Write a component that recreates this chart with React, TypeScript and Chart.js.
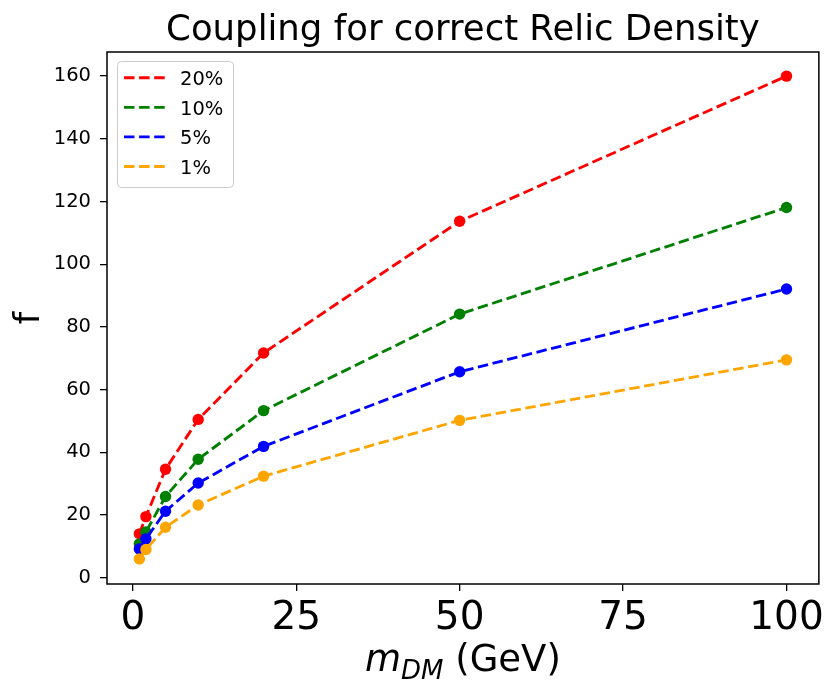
import React, { useEffect, useRef } from "react";
import { Chart, registerables } from "chart.js";

Chart.register(...registerables);

const masses = [1, 2, 5, 10, 20, 50, 100];
const f20 = [14.0, 19.5, 34.6, 50.5, 71.7, 113.7, 160.0];
const f10 = [10.8, 14.6, 25.9, 37.8, 53.3, 84.1, 118.1];
const f5 = [9.2, 12.4, 21.2, 30.2, 41.9, 65.7, 92.1];
const f1 = [6.0, 9.0, 16.1, 23.2, 32.4, 50.2, 69.5];
const seriesLabels = ["20%", "10%", "5%", "1%"];
const seriesColors = ["#ff0000", "#008000", "#0000ff", "#ffa500"];
const xTicks = [0, 25, 50, 75, 100];
const yTicks = [0, 20, 40, 60, 80, 100, 120, 140, 160];
const titleText = "Coupling for correct Relic Density";
const yTitle = "f";
const xTitleMain = "m";
const xTitleSub = "DM";
const xTitleUnit = " (GeV)";

const FONT = '"DejaVu Sans", sans-serif';

const decorPlugin = {
  id: "decor",
  afterDatasetsDraw(chart: any) {
    const { ctx, chartArea } = chart;
    const { left, right, top, bottom } = chartArea;
    ctx.save();
    ctx.strokeStyle = "#000";
    ctx.lineWidth = 1.5;
    ctx.strokeRect(left, top, right - left, bottom - top);
    ctx.restore();
  },
  afterDraw(chart: any) {
    const { ctx, chartArea } = chart;
    const { left, right, top, bottom } = chartArea;
    const cx = (left + right) / 2;
    const cy = (top + bottom) / 2;
    ctx.save();
    ctx.fillStyle = "#000";
    // title
    ctx.font = `35.5px ${FONT}`;
    ctx.textAlign = "center";
    ctx.textBaseline = "alphabetic";
    ctx.fillText(titleText, cx, 40);
    // y title
    ctx.save();
    ctx.translate(38.5, cy);
    ctx.rotate(-Math.PI / 2);
    ctx.font = `35px ${FONT}`;
    ctx.textAlign = "center";
    ctx.fillText(yTitle, 0, 0);
    ctx.restore();
    // x title
    const fMain = `italic 37px ${FONT}`;
    const fSub = `italic 26px ${FONT}`;
    const fUnit = `37px ${FONT}`;
    ctx.font = fMain;
    const w1 = ctx.measureText(xTitleMain).width;
    ctx.font = fSub;
    const w2 = ctx.measureText(xTitleSub).width;
    ctx.font = fUnit;
    const w3 = ctx.measureText(xTitleUnit).width;
    const total = w1 + w2 + w3;
    let x = cx - total / 2;
    const base = 671;
    ctx.textAlign = "left";
    ctx.font = fMain;
    ctx.fillText(xTitleMain, x, base);
    x += w1;
    ctx.font = fSub;
    ctx.fillText(xTitleSub, x, base + 8);
    x += w2;
    ctx.font = fUnit;
    ctx.fillText(xTitleUnit, x, base);

    // legend
    const bx = 117.5, by = 61.5, bw = 116, bh = 126;
    ctx.beginPath();
    if ((ctx as any).roundRect) (ctx as any).roundRect(bx, by, bw, bh, 4);
    else ctx.rect(bx, by, bw, bh);
    ctx.fillStyle = "rgba(255,255,255,0.8)";
    ctx.fill();
    ctx.strokeStyle = "#cccccc";
    ctx.lineWidth = 1;
    ctx.stroke();
    const ds = chart.data.datasets;
    ds.forEach((d: any, i: number) => {
      const y = 77.7 + i * 29.6;
      ctx.setLineDash([10.5, 4.6]);
      ctx.strokeStyle = d.borderColor;
      ctx.lineWidth = 2.85;
      ctx.beginPath();
      ctx.moveTo(124, y);
      ctx.lineTo(165, y);
      ctx.stroke();
      ctx.setLineDash([]);
      ctx.fillStyle = "#000";
      ctx.font = `19.5px ${FONT}`;
      ctx.textAlign = "left";
      ctx.textBaseline = "alphabetic";
      ctx.fillText(d.label, 180, y + 7.5);
    });
    ctx.restore();
  },
};

export default function App() {
  const ref = useRef<HTMLCanvasElement | null>(null);
  useEffect(() => {
    if (!ref.current) return;
    const series = [f20, f10, f5, f1];
    const chart = new Chart(ref.current, {
      type: "line",
      data: {
        datasets: series.map((vals, i) => ({
          label: seriesLabels[i],
          data: masses.map((m, j) => ({ x: m, y: vals[j] })),
          borderColor: seriesColors[i],
          backgroundColor: seriesColors[i],
          pointBackgroundColor: seriesColors[i],
          pointBorderColor: seriesColors[i],
          borderWidth: 2.85,
          borderDash: [10.5, 4.6],
          pointRadius: 5.7,
          pointBorderWidth: 0,
          pointHoverRadius: 5.7,
          tension: 0,
          fill: false,
          order: 3 - i,
        })),
      },
      options: {
        animation: false,
        responsive: false,
        devicePixelRatio: 1,
        layout: { padding: { left: 0, right: 6, top: 52, bottom: 0 } },
        plugins: {
          legend: { display: false },
          title: { display: false },
          tooltip: { enabled: false },
        },
        scales: {
          x: {
            type: "linear",
            min: -3.95,
            max: 104.95,
            border: { display: false },
            grid: {
              display: true,
              drawOnChartArea: false,
              drawTicks: true,
              tickLength: 7,
              color: "#000",
              lineWidth: 1.3,
            },
            ticks: {
              font: { family: FONT, size: 39 },
              color: "#000",
              padding: 4,
              autoSkip: false,
              maxRotation: 0,
            },
            afterBuildTicks: (s: any) => {
              s.ticks = xTicks.map((v) => ({ value: v }));
            },
            afterFit: (s: any) => {
              s.height = 97;
            },
          },
          y: {
            type: "linear",
            min: -2.0,
            max: 167.7,
            border: { display: false },
            grid: {
              display: true,
              drawOnChartArea: false,
              drawTicks: true,
              tickLength: 7,
              color: "#000",
              lineWidth: 1.3,
            },
            ticks: {
              font: { family: FONT, size: 19.5 },
              color: "#000",
              padding: 9,
              autoSkip: false,
            },
            afterBuildTicks: (s: any) => {
              s.ticks = yTicks.map((v) => ({ value: v }));
            },
            afterFit: (s: any) => {
              s.width = 107;
            },
          },
        },
      } as any,
      plugins: [decorPlugin],
    });
    return () => chart.destroy();
  }, []);
  return (
    <div style={{ position: "fixed", left: 0, top: 0, width: 828, height: 681, background: "#fff" }}>
      <canvas ref={ref} width={828} height={681} />
    </div>
  );
}
